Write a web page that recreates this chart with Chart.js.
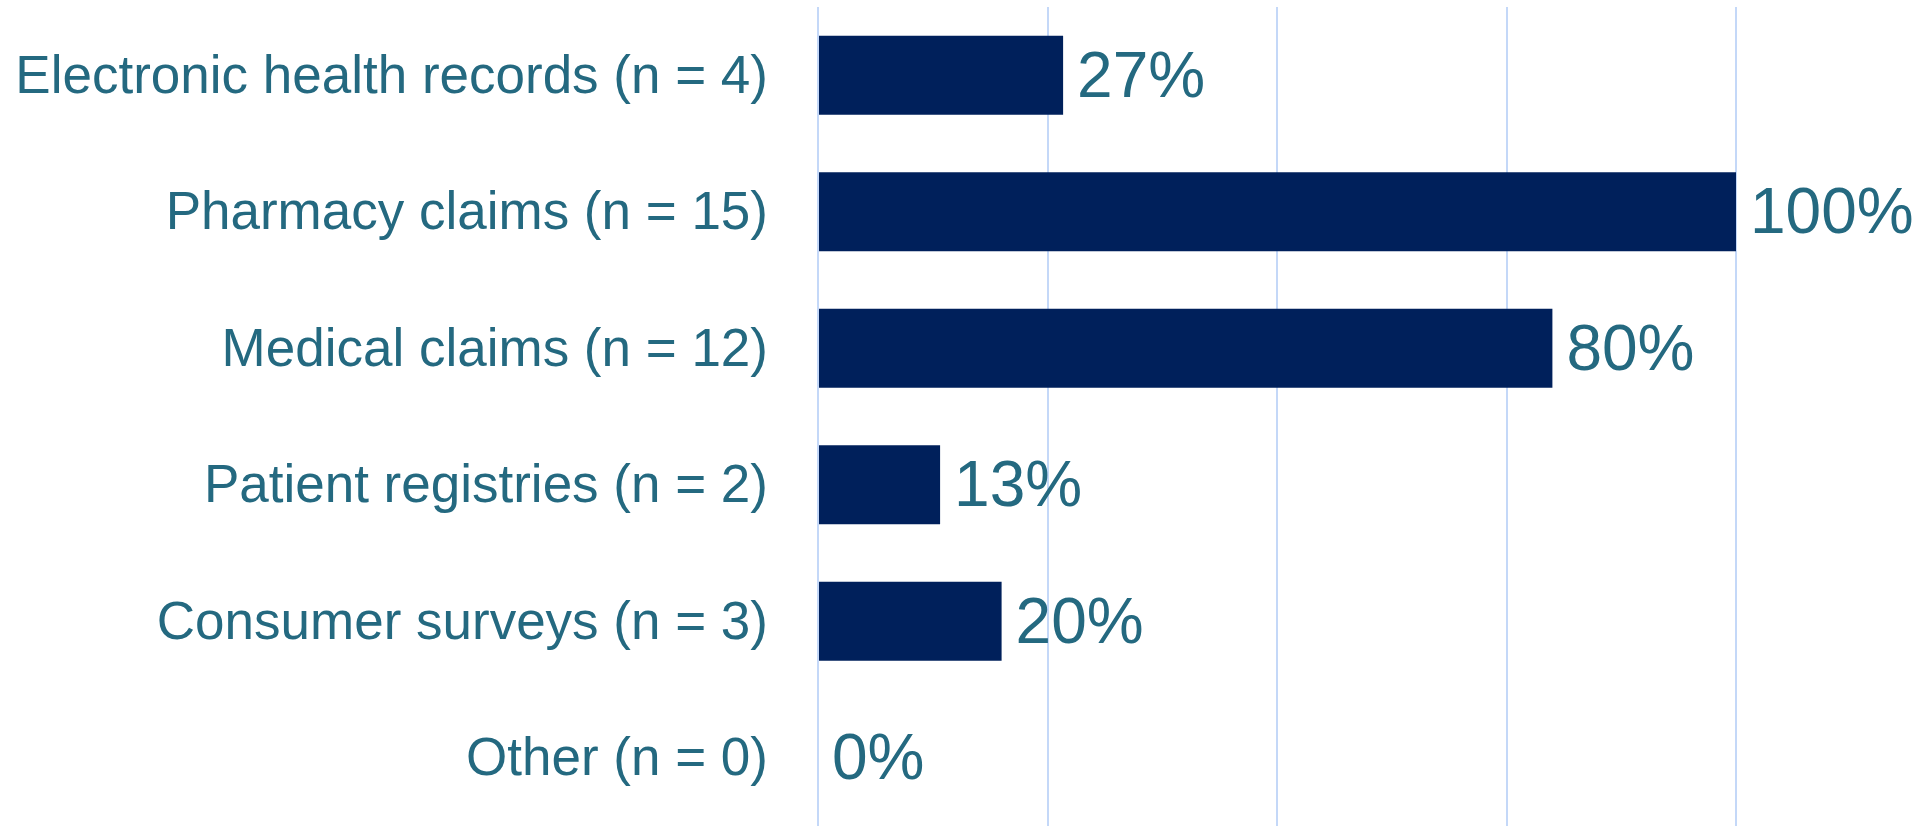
<!DOCTYPE html>
<html>
<head>
<meta charset="utf-8">
<script src="https://cdn.jsdelivr.net/npm/chart.js@4/dist/chart.umd.min.js"></script>
<style>
  html, body { margin: 0; padding: 0; background: #ffffff; }
  #wrap { width: 1928px; height: 826px; }
</style>
</head>
<body>
<div id="wrap"><canvas id="c" width="1928" height="826"></canvas></div>
<script>
const categories = [
  "Electronic health records (n = 4)",
  "Pharmacy claims (n = 15)",
  "Medical claims (n = 12)",
  "Patient registries (n = 2)",
  "Consumer surveys (n = 3)",
  "Other (n = 0)"
];
const percentValues = [26.7, 100, 80, 13.3, 20, 0];
const valueLabels = ["27%", "100%", "80%", "13%", "20%", "0%"];
const xTickValues = [0, 25, 50, 75, 100];

const FONT = '"Liberation Sans", Arial, Helvetica, sans-serif';
const TEXT_COLOR = '#246980';
const BAR_COLOR = '#00205b';
const GRID_COLOR = '#c4d8f8';

const valueLabelPlugin = {
  id: 'valueLabels',
  afterDatasetsDraw(chart) {
    const ctx = chart.ctx;
    const meta = chart.getDatasetMeta(0);
    ctx.save();
    ctx.font = '64px ' + FONT;
    ctx.fillStyle = TEXT_COLOR;
    ctx.textAlign = 'left';
    ctx.textBaseline = 'middle';
    meta.data.forEach((el, i) => {
      ctx.fillText(valueLabels[i], el.x + 14, el.y + 4);
    });
    ctx.restore();
  }
};

new Chart(document.getElementById('c'), {
  type: 'bar',
  data: {
    labels: categories,
    datasets: [{
      data: percentValues,
      backgroundColor: BAR_COLOR,
      borderWidth: 0,
      categoryPercentage: 1,
      barPercentage: 0.578
    }]
  },
  options: {
    indexAxis: 'y',
    responsive: false,
    maintainAspectRatio: false,
    devicePixelRatio: 1,
    animation: false,
    layout: { padding: { top: 7, right: 192, bottom: 0, left: 0 } },
    plugins: {
      legend: { display: false },
      tooltip: { enabled: false },
      title: { display: false }
    },
    scales: {
      x: {
        min: 0,
        max: 100,
        afterBuildTicks(scale) {
          scale.ticks = xTickValues.map(v => ({ value: v }));
        },
        ticks: { display: false },
        grid: {
          color: GRID_COLOR,
          lineWidth: 2,
          drawTicks: false
        },
        border: { display: false },
        afterFit(scale) {
          scale.height = 0;
          scale.paddingLeft = 0;
          scale.paddingRight = 0;
        }
      },
      y: {
        ticks: {
          color: TEXT_COLOR,
          font: { family: FONT, size: 53 },
          padding: 50,
          labelOffset: 3,
          autoSkip: false
        },
        grid: { display: false, drawTicks: false },
        border: { display: false },
        afterFit(scale) {
          scale.width = 818;
          scale.paddingTop = 0;
          scale.paddingBottom = 0;
        }
      }
    }
  },
  plugins: [valueLabelPlugin]
});
</script>
</body>
</html>
